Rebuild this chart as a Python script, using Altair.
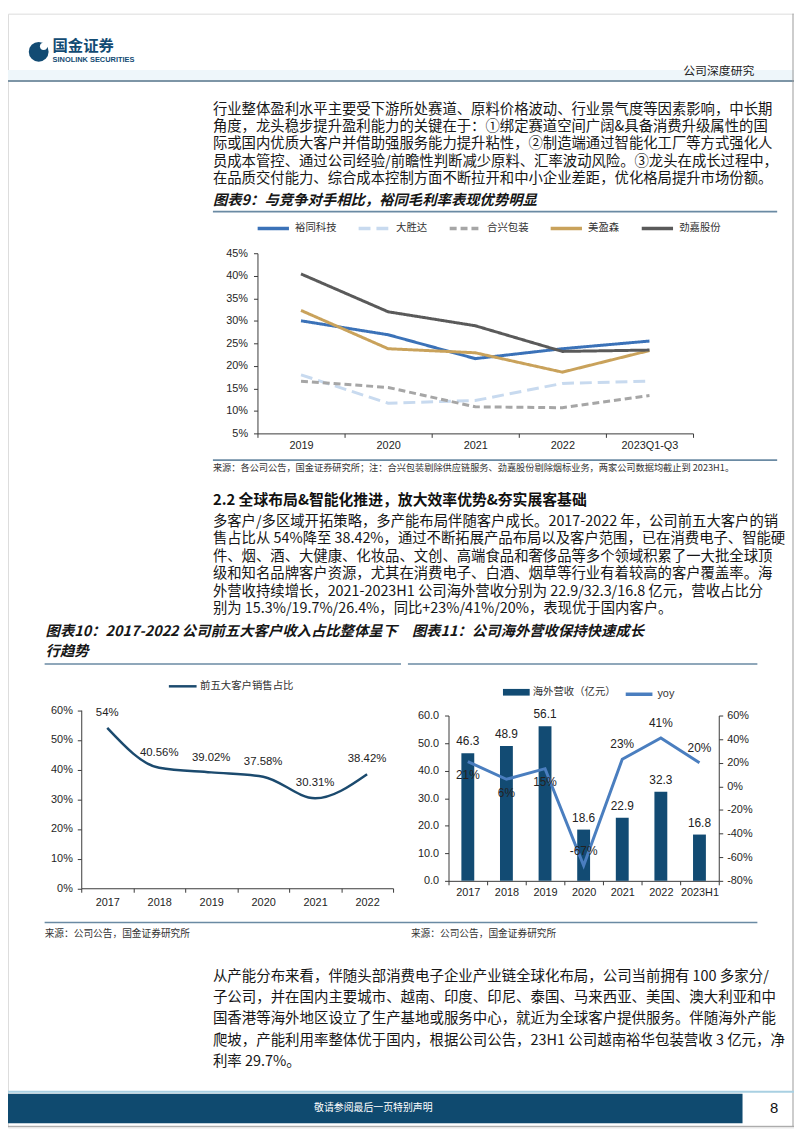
import altair as alt
import pandas as pd

# ---------------- chart 9 data ----------------
years9 = ["2019", "2020", "2021", "2022", "2023Q1-Q3"]
companies9 = ["裕同科技", "大胜达", "合兴包装", "美盈森", "劲嘉股份"]
margin_yutong = [30.0, 26.9, 21.6, 23.8, 25.5]
margin_dashengda = [18.0, 11.7, 12.3, 16.1, 16.6]
margin_hexing = [16.6, 15.2, 10.9, 10.7, 13.4]
margin_meiyingsen = [32.3, 23.8, 22.9, 18.6, 23.4]
margin_jinjia = [40.4, 32.0, 28.9, 23.2, 23.5]
ticks9 = [5, 10, 15, 20, 25, 30, 35, 40, 45]

# ---------------- chart 10 data ----------------
years10 = ["2017", "2018", "2019", "2020", "2021", "2022"]
share10 = [54.0, 40.56, 39.02, 37.58, 30.31, 38.42]
share10_labels = ["54%", "40.56%", "39.02%", "37.58%", "30.31%", "38.42%"]
series10 = ["前五大客户销售占比"]
ticks10 = [0, 10, 20, 30, 40, 50, 60]

# ---------------- chart 11 data ----------------
years11 = ["2017", "2018", "2019", "2020", "2021", "2022", "2023H1"]
rev11 = [46.3, 48.9, 56.1, 18.6, 22.9, 32.3, 16.8]
yoy11 = [21, 6, 15, -67, 23, 41, 20]
series11 = ["海外营收（亿元）", "yoy"]
ticks11_left = [0, 10, 20, 30, 40, 50, 60]
ticks11_right = [-80, -60, -40, -20, 0, 20, 40, 60]

# ---------------- page text ----------------
brand_cn = "国金证券"
brand_en = "SINOLINK SECURITIES"
report_type = "公司深度研究"
para1 = [
    "行业整体盈利水平主要受下游所处赛道、原料价格波动、行业景气度等因素影响，中长期",
    "角度，龙头稳步提升盈利能力的关键在于：①绑定赛道空间广阔&具备消费升级属性的国",
    "际或国内优质大客户并借助强服务能力提升粘性，②制造端通过智能化工厂等方式强化人",
    "员成本管控、通过公司经验/前瞻性判断减少原料、汇率波动风险。③龙头在成长过程中，",
    "在品质交付能力、综合成本控制方面不断拉开和中小企业差距，优化格局提升市场份额。",
]
title9 = "图表9：与竞争对手相比，裕同毛利率表现优势明显"
source9 = "来源：各公司公告，国金证券研究所；注：合兴包装剔除供应链服务、劲嘉股份剔除烟标业务，两家公司数据均截止到 2023H1。"
heading22 = "2.2 全球布局&智能化推进，放大效率优势&夯实展客基础"
para2 = [
    "多客户/多区域开拓策略，多产能布局伴随客户成长。2017-2022 年，公司前五大客户的销",
    "售占比从 54%降至 38.42%，通过不断拓展产品布局以及客户范围，已在消费电子、智能硬",
    "件、烟、酒、大健康、化妆品、文创、高端食品和奢侈品等多个领域积累了一大批全球顶",
    "级和知名品牌客户资源，尤其在消费电子、白酒、烟草等行业有着较高的客户覆盖率。海",
    "外营收持续增长，2021-2023H1 公司海外营收分别为 22.9/32.3/16.8 亿元，营收占比分",
    "别为 15.3%/19.7%/26.4%，同比+23%/41%/20%，表现优于国内客户。",
]
title10 = ["图表10：2017-2022 公司前五大客户收入占比整体呈下", "行趋势"]
title11 = "图表11：公司海外营收保持快速成长"
source_common = "来源：公司公告，国金证券研究所"
para3 = [
    "从产能分布来看，伴随头部消费电子企业产业链全球化布局，公司当前拥有 100 多家分/",
    "子公司，并在国内主要城市、越南、印度、印尼、泰国、马来西亚、美国、澳大利亚和中",
    "国香港等海外地区设立了生产基地或服务中心，就近为全球客户提供服务。伴随海外产能",
    "爬坡，产能利用率整体优于国内，根据公司公告，23H1 公司越南裕华包装营收 3 亿元，净",
    "利率 29.7%。",
]
footer_note = "敬请参阅最后一页特别声明"
page_no = "8"

# ---------------- styling ----------------
W, H = 794, 1125
CJK = "Noto Sans CJK SC"
LAT = "Liberation Sans, Arial, Noto Sans CJK SC"
NAVY = "#124b73"
BODY = "#161616"
LINEC = "#6a8aa3"

one = alt.Data(values=[{"k": 0}])


def text(lines, x, y, size, lh=None, color=BODY, font=CJK, weight="normal",
         style="normal", align="left"):
    props = dict(text=lines, align=align, baseline="middle", font=font,
                 fontSize=size, color=color, fontWeight=weight, fontStyle=style)
    if lh is not None:
        props["lineHeight"] = lh
    return alt.Chart(one).mark_text(**props).encode(x=alt.value(x), y=alt.value(y))


def hrule(x1, x2, y, color=LINEC, width=1.6):
    return alt.Chart(one).mark_rule(color=color, strokeWidth=width).encode(
        x=alt.value(x1), x2=alt.value(x2), y=alt.value(y))


def vrule(x, y1, y2, color="#9a9a9a", width=1):
    return alt.Chart(one).mark_rule(color=color, strokeWidth=width).encode(
        x=alt.value(x), y=alt.value(y1), y2=alt.value(y2))


AX = dict(title=None, grid=False, domainColor="#3a3a3a", tickColor="#3a3a3a",
          tickSize=4, labelColor="#1e1e1e", labelFont=LAT, labelFontSize=11)

# ---------------- chart 9 ----------------
df9 = pd.DataFrame({
    "year": years9 * len(companies9),
    "company": [c for c in companies9 for _ in years9],
    "value": margin_yutong + margin_dashengda + margin_hexing + margin_meiyingsen + margin_jinjia,
})
colors9 = ["#3b72b8", "#c8daef", "#a6a6a6", "#c9a25b", "#5a5a5a"]
dash9 = [[1, 0], [12, 6], [7, 4], [1, 0], [1, 0]]
leg9 = dict(orient="none", legendX=250, legendY=199, direction="horizontal", title=None,
            symbolType="stroke", symbolSize=1000, symbolStrokeWidth=3.5,
            labelFont=CJK, labelFontSize=10.5, labelColor="#333333",
            labelOffset=4, columnPadding=15, padding=0)
line9 = alt.Chart(df9).mark_line(strokeWidth=3).encode(
    x=alt.X("year:N", bandPosition=0.5,
            scale=alt.Scale(type="band", domain=years9, range=[252, 692], paddingInner=0, paddingOuter=0),
            axis=alt.Axis(orient="bottom", offset=424 - H, tickBand="extent", labelPadding=2,
                          labelAngle=0, **AX)),
    y=alt.Y("value:Q", scale=alt.Scale(domain=[5, 45], range=[424, 242], nice=False, zero=False),
            axis=alt.Axis(orient="left", offset=-252, values=ticks9,
                          labelExpr="datum.value + '%'", labelPadding=6, **AX)),
    color=alt.Color("company:N", scale=alt.Scale(domain=companies9, range=colors9),
                    legend=alt.Legend(**leg9)),
    strokeDash=alt.StrokeDash("company:N", scale=alt.Scale(domain=companies9, range=dash9),
                              legend=alt.Legend(**leg9)),
)

# ---------------- chart 10 ----------------
df10 = pd.DataFrame({"year": years10, "share": share10, "label": share10_labels,
                     "series": series10 * len(years10)})


def x10(show):
    return alt.X("year:N", bandPosition=0.5,
                 scale=alt.Scale(type="band", domain=years10, range=[74, 389], paddingInner=0, paddingOuter=0),
                 axis=alt.Axis(orient="bottom", offset=883.5 - H, tickBand="extent", labelPadding=4,
                               labelAngle=0, **AX) if show else None)


def y10(show):
    return alt.Y("share:Q", scale=alt.Scale(domain=[0, 60], range=[883.5, 703.5], nice=False),
                 axis=alt.Axis(orient="left", offset=-74, values=ticks10,
                               labelExpr="datum.value + '%'", labelPadding=5, **AX) if show else None)


line10 = alt.Chart(df10).mark_line(strokeWidth=2.5, interpolate="monotone").encode(
    x=x10(True), y=y10(True),
    color=alt.Color("series:N", scale=alt.Scale(domain=series10, range=["#1b4a6e"]),
                    legend=alt.Legend(orient="none", legendX=161, legendY=664, title=None,
                                      symbolType="stroke", symbolSize=784, symbolStrokeWidth=2.5,
                                      labelFont=CJK, labelFontSize=10.5, labelColor="#333333",
                                      labelOffset=2, padding=0)),
)
lab10 = alt.Chart(df10).mark_text(dy=-15, font=LAT, fontSize=11.5, color="#222222").encode(
    x=x10(False), y=y10(False), text="label:N")

# ---------------- chart 11 ----------------
df11 = pd.DataFrame({"year": years11, "rev": rev11, "yoy": yoy11,
                     "yoy_label": [f"{v}%" for v in yoy11],
                     "s_bar": [series11[0]] * len(years11),
                     "s_line": [series11[1]] * len(years11)})


def x11(show):
    return alt.X("year:N", bandPosition=0.5,
                 scale=alt.Scale(type="band", domain=years11, range=[445, 718], paddingInner=0, paddingOuter=0),
                 axis=alt.Axis(orient="bottom", offset=876 - H, tickBand="extent", labelPadding=2,
                               labelAngle=0, **AX) if show else None)


def yl11(show):
    return alt.Y("rev:Q", scale=alt.Scale(domain=[0, 60], range=[876, 709], nice=False),
                 axis=alt.Axis(orient="left", offset=-445, values=ticks11_left, format=".1f",
                               labelPadding=6, **AX) if show else None)


def yr11(show):
    return alt.Y("yoy:Q", scale=alt.Scale(domain=[-80, 60], range=[876, 709], nice=False, zero=False),
                 axis=alt.Axis(orient="right", offset=718 - W, values=ticks11_right,
                               labelExpr="datum.value + '%'", labelPadding=4, **AX) if show else None)


bars11 = alt.Chart(df11).mark_bar(size=13).encode(
    x=alt.X("year:N",
            scale=alt.Scale(type="band", domain=years11, range=[445, 718], paddingInner=0, paddingOuter=0),
            axis=alt.Axis(orient="bottom", offset=876 - H, tickBand="extent", labelPadding=2,
                          labelAngle=0, **AX)),
    y=yl11(True),
    color=alt.Color("s_bar:N", scale=alt.Scale(domain=[series11[0]], range=[NAVY]),
                    legend=alt.Legend(orient="none", legendX=500, legendY=672, title=None,
                                      symbolType="M-1,-0.25H1V0.25H-1Z", symbolSize=729,
                                      symbolStrokeWidth=0, labelFont=CJK, labelFontSize=10.5,
                                      labelColor="#333333", labelOffset=3, padding=0)),
)
barlab11 = alt.Chart(df11).mark_text(dy=-12, font=LAT, fontSize=12, color="#222222").encode(
    x=x11(False), y=yl11(False), text=alt.Text("rev:Q", format=".1f"))
line11 = alt.Chart(df11).mark_line(strokeWidth=3).encode(
    x=x11(False), y=yr11(True),
    color=alt.Color("s_line:N", scale=alt.Scale(domain=[series11[1]], range=["#4a7ebf"]),
                    legend=alt.Legend(orient="none", legendX=622, legendY=672, title=None,
                                      symbolType="stroke", symbolSize=729, symbolStrokeWidth=3.5,
                                      labelFont=LAT, labelFontSize=11, labelColor="#333333",
                                      labelOffset=3, padding=0)),
)
yoylab_below = alt.Chart(df11).transform_filter(
    alt.FieldOneOfPredicate(field="year", oneOf=years11[:3])
).mark_text(dy=14, font=LAT, fontSize=12, color="#222222").encode(
    x=x11(False), y=yr11(False), text="yoy_label:N")
yoylab_above = alt.Chart(df11).transform_filter(
    alt.FieldOneOfPredicate(field="year", oneOf=years11[3:])
).mark_text(dy=-15, font=LAT, fontSize=12, color="#222222").encode(
    x=x11(False), y=yr11(False), text="yoy_label:N")

# ---------------- page furniture ----------------
header_band = alt.Chart(one).mark_rect(color="#eef6fa").encode(
    x=alt.value(0), x2=alt.value(W), y=alt.value(57), y2=alt.value(67))
logo_ring = alt.Chart(one).mark_circle(size=400, color=NAVY, opacity=1).encode(
    x=alt.value(31), y=alt.value(38.5))
logo_cut = alt.Chart(one).mark_circle(size=55, color="white", opacity=1).encode(
    x=alt.value(36), y=alt.value(33))
footer_band = alt.Chart(one).mark_rect(color="#0f4a6f").encode(
    x=alt.value(0), x2=alt.value(742), y=alt.value(1091), y2=alt.value(1121))

layers = [
    header_band,
    hrule(0, W, 68, color="#7d95a6", width=2),
    vrule(793, 0, 1124),
    hrule(0, W, 1124, color="#9a9a9a", width=1),
    logo_ring, logo_cut,
    text(brand_cn, 45, 33, 15.5, color=NAVY, weight="bold"),
    text(brand_en, 45, 47, 7.5, color=NAVY, weight="bold", font=LAT),
    text(report_type, 754, 58, 12, color="#222222", align="right"),
    text(para1, 207, 97, 14.5, lh=17.6),
    text(title9, 207, 189, 14.5, weight="bold", style="italic"),
    hrule(207, 777, 200),
    line9,
    hrule(207, 777, 451),
    text(source9, 207, 459, 9.3, color="#333333"),
    text(heading22, 207, 491, 15, weight="bold", color="#111111"),
    text(para2, 207, 513.5, 14.5, lh=17.6),
    text(title10, 38, 625, 14.5, lh=20, weight="bold", style="italic"),
    text(title11, 408, 625, 14.5, weight="bold", style="italic"),
    hrule(37, 397, 657),
    hrule(404, 757, 657),
    line10, lab10,
    bars11, barlab11, line11, yoylab_below, yoylab_above,
    hrule(37, 757, 918),
    text(source_common, 37, 930, 9.8, color="#333333"),
    text(source_common, 407, 930, 9.8, color="#333333"),
    text(para3, 207, 973, 14.6, lh=21.5),
    hrule(0, W, 1089, color="#a9d0e2", width=2),
    footer_band,
    text(footer_note, 369, 1106, 10, color="white", align="center"),
    text(page_no, 774, 1106, 15, color="#111111", font=LAT, align="center"),
]

chart = alt.layer(*layers).resolve_scale(
    x="independent", y="independent", color="independent", strokeDash="independent"
).properties(
    width=W, height=H, autosize=alt.AutoSizeParams(type="none"), padding=0
).configure_view(stroke=None).configure(background="white")

chart.save("out.html", embed_options={"renderer": "svg", "actions": False})
